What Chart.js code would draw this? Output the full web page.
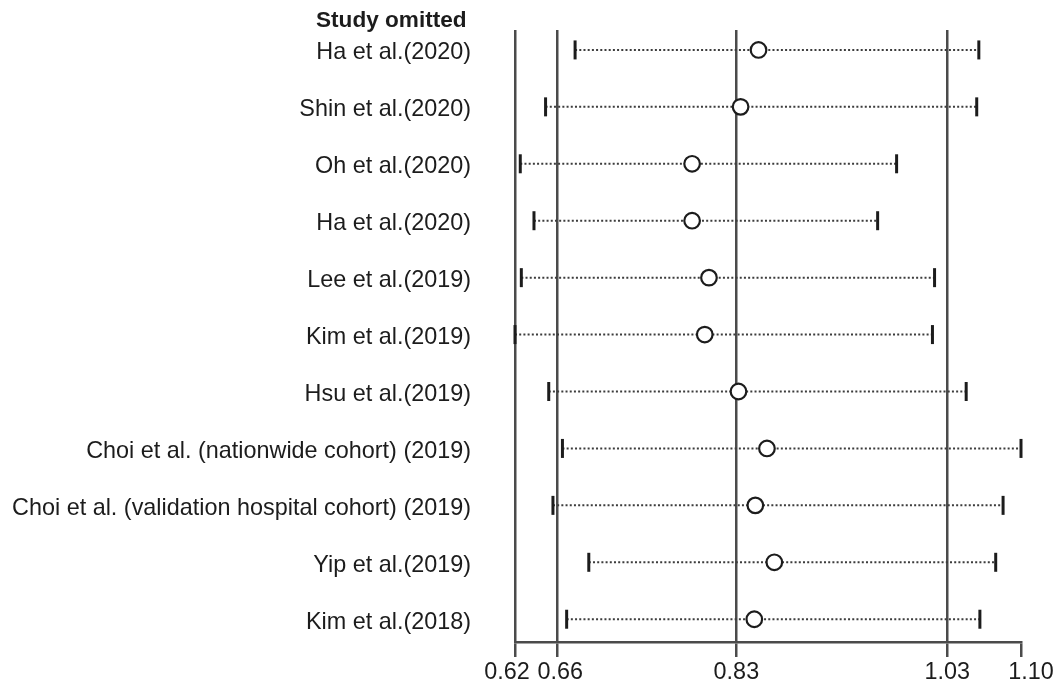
<!DOCTYPE html>
<html>
<head>
<meta charset="utf-8">
<title>Study omitted</title>
<script src="https://cdn.jsdelivr.net/npm/chart.js@4.4.1/dist/chart.umd.min.js"></script>
<style>
  html, body { margin: 0; padding: 0; background: #ffffff; }
  #wrap { width: 1058px; height: 688px; }
</style>
</head>
<body>
<div id="wrap"><canvas id="chart" width="1058" height="688"></canvas></div>
<script>
// Leave-one-out estimates: each row is the pooled result with that study removed
const studies = [
  'Ha et al.(2020)',
  'Shin et al.(2020)',
  'Oh et al.(2020)',
  'Ha et al.(2020)',
  'Lee et al.(2019)',
  'Kim et al.(2019)',
  'Hsu et al.(2019)',
  'Choi et al. (nationwide cohort) (2019)',
  'Choi et al. (validation hospital cohort) (2019)',
  'Yip et al.(2019)',
  'Kim et al.(2018)'
];
const estimates = [0.851, 0.834, 0.788, 0.788, 0.804, 0.800, 0.832, 0.859, 0.848, 0.866, 0.847];
const lowerCI   = [0.677, 0.649, 0.625, 0.638, 0.626, 0.620, 0.652, 0.665, 0.656, 0.690, 0.669];
const upperCI   = [1.060, 1.058, 0.982, 0.964, 1.018, 1.016, 1.048, 1.100, 1.083, 1.076, 1.061];

// Axis ticks: overall lower limit, pooled estimate, upper limit, plus the axis ends
const xTicks = [0.62, 0.66, 0.83, 1.03, 1.10];
const headerText = 'Study omitted';

const FONT = "'Liberation Sans', Arial, Helvetica, sans-serif";
const LINE_GREY = '#4b4b4b';
const INK = '#1c1c1c';

// horizontal nudges so crowded end labels do not collide
const tickLabelShift = [-8, 3, 0, 0, 10];

// one dotted interval per study, capped at both ends
const ciDatasets = studies.map((name, i) => ({
  type: 'line',
  label: name,
  data: [{ x: lowerCI[i], y: i + 1 }, { x: upperCI[i], y: i + 1 }],
  clip: false,
  showLine: true,
  borderColor: '#3c3c3c',
  borderWidth: 2,
  borderDash: [2, 2.2],
  pointStyle: 'line',
  rotation: 90,
  pointRadius: 9.5,
  pointHoverRadius: 9.5,
  pointBorderWidth: 3,
  pointBorderColor: INK,
  pointBackgroundColor: INK,
  order: 1
}));

const estimateDataset = {
  type: 'scatter',
  label: 'estimate',
  data: estimates.map((v, i) => ({ x: v, y: i + 1 })),
  clip: false,
  pointStyle: 'circle',
  pointRadius: 7.8,
  pointHoverRadius: 7.8,
  pointBorderWidth: 2.2,
  pointBorderColor: INK,
  pointBackgroundColor: '#ffffff',
  order: 0
};

const textPlugin = {
  id: 'axisText',
  afterDraw(chart) {
    const ctx = chart.ctx;
    const xs = chart.scales.x;
    ctx.save();
    // column header above the study names
    ctx.font = "bold 22.6px " + FONT;
    ctx.fillStyle = INK;
    ctx.textAlign = 'left';
    ctx.textBaseline = 'middle';
    ctx.fillText(headerText, 316, 21);
    // x tick labels
    ctx.font = "23.4px " + FONT;
    ctx.textAlign = 'center';
    xTicks.forEach((v, i) => {
      ctx.fillText(v.toFixed(2), xs.getPixelForValue(v) + tickLabelShift[i], xs.top + 31);
    });
    ctx.restore();
  }
};

new Chart(document.getElementById('chart'), {
  data: { datasets: [estimateDataset, ...ciDatasets] },
  options: {
    responsive: false,
    animation: false,
    events: [],
    layout: { padding: { top: 30, right: 37, bottom: 0, left: 0 } },
    plugins: { legend: { display: false }, tooltip: { enabled: false } },
    scales: {
      x: {
        type: 'linear',
        min: 0.62,
        max: 1.10,
        afterBuildTicks(axis) { axis.ticks = xTicks.map(v => ({ value: v })); },
        afterFit(axis) { axis.height = 46; },
        ticks: { display: false, autoSkip: false, maxRotation: 0, minRotation: 0 },
        grid: {
          display: true,
          drawTicks: true,
          tickLength: 15,
          lineWidth: 2.5,
          tickWidth: 2.5,
          tickColor: LINE_GREY,
          color: (ctx) => (ctx.tick && ctx.tick.value === xTicks[xTicks.length - 1]) ? 'rgba(0,0,0,0)' : LINE_GREY
        },
        border: { display: true, color: LINE_GREY, width: 2.5 }
      },
      y: {
        type: 'linear',
        reverse: true,
        min: 0.65,
        max: 11.4,
        afterBuildTicks(axis) { axis.ticks = studies.map((_, i) => ({ value: i + 1 })); },
        afterFit(axis) { axis.width = 515; },
        ticks: {
          autoSkip: false,
          padding: 0,
          labelOffset: 3,
          color: INK,
          font: { family: FONT, size: 23.4 },
          callback: (v) => studies[Math.round(v) - 1]
        },
        grid: {
          display: true,
          drawOnChartArea: false,
          drawTicks: true,
          tickLength: 44,
          color: 'rgba(0,0,0,0)',
          tickColor: 'rgba(0,0,0,0)'
        },
        border: { display: false }
      }
    }
  },
  plugins: [textPlugin]
});
</script>
</body>
</html>
